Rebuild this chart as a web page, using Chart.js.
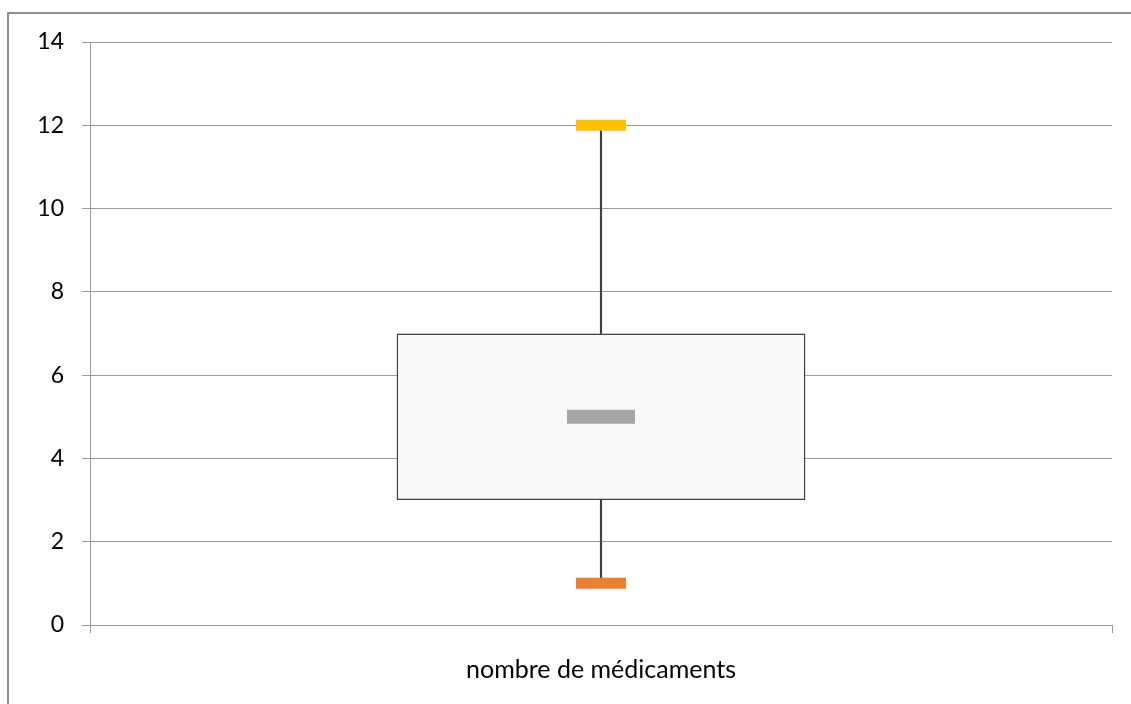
<!DOCTYPE html>
<html>
<head>
<meta charset="utf-8">
<script src="https://cdn.jsdelivr.net/npm/chart.js@4.4.0/dist/chart.umd.min.js"></script>
<style>
    html, body { margin: 0; padding: 0; background: #fff; overflow: hidden; }
    #wrap { position: relative; width: 1131px; height: 704px; }
    #frame { position: absolute; left: 7px; top: 12px; width: 1300px; height: 900px; border: 2px solid #8e8e8e; }
    #boxChart { position: absolute; left: 0; top: 0; }
</style>
</head>
<body>
<div id="wrap">
    <div id="frame"></div>
    <canvas id="boxChart" width="1131" height="704"></canvas>
</div>
<script>
// Boite a moustaches : nombre de medicaments
const categories = ['nombre de médicaments'];
const minValues = [1];
const q1Values = [3];
const medianValues = [5];
const q3Values = [7];
const maxValues = [12];
const yTicks = [0, 2, 4, 6, 8, 10, 12, 14];

const lineColor = '#404040';
const gridColor = '#9a9a9a';

const ctx = document.getElementById('boxChart').getContext('2d');
new Chart(ctx, {
    type: 'bar',
    data: {
        labels: categories,
        datasets: [
            {
                label: 'moustache basse',
                data: q1Values.map((q, i) => [minValues[i], q]),
                backgroundColor: lineColor,
                barThickness: 1.5,
                grouped: false,
                order: 3
            },
            {
                label: 'moustache haute',
                data: q3Values.map((q, i) => [q, maxValues[i]]),
                backgroundColor: lineColor,
                barThickness: 1.5,
                grouped: false,
                order: 3
            },
            {
                label: 'boite',
                data: q1Values.map((q, i) => [q, q3Values[i]]),
                backgroundColor: '#f8f8f8',
                borderColor: lineColor,
                borderWidth: 1.5,
                borderSkipped: false,
                barPercentage: 0.4,
                categoryPercentage: 1,
                grouped: false,
                order: 2
            },
            {
                type: 'line',
                label: 'médiane',
                data: medianValues,
                showLine: false,
                pointStyle: 'line',
                pointRadius: 34,
                pointHoverRadius: 34,
                pointBorderWidth: 14,
                pointBorderColor: '#a5a5a5',
                order: 1
            },
            {
                type: 'line',
                label: 'max',
                data: maxValues,
                showLine: false,
                pointStyle: 'line',
                pointRadius: 25,
                pointHoverRadius: 25,
                pointBorderWidth: 11,
                pointBorderColor: '#ffc000',
                order: 1
            },
            {
                type: 'line',
                label: 'min',
                data: minValues,
                showLine: false,
                pointStyle: 'line',
                pointRadius: 25,
                pointHoverRadius: 25,
                pointBorderWidth: 11,
                pointBorderColor: '#ed7d31',
                order: 1
            }
        ]
    },
    options: {
        responsive: false,
        animation: false,
        layout: {
            autoPadding: false,
            padding: { left: 0, top: 42, right: 19, bottom: 0 }
        },
        scales: {
            x: {
                offset: true,
                grid: {
                    offset: true,
                    drawOnChartArea: false,
                    tickLength: 8,
                    color: gridColor
                },
                border: { color: gridColor },
                ticks: {
                    color: '#000',
                    padding: 22,
                    font: { family: 'Lato', size: 25 }
                },
                afterFit: scale => {
                    scale.height = 79;
                    scale.paddingLeft = 0;
                    scale.paddingRight = 0;
                }
            },
            y: {
                min: 0,
                max: 14,
                afterBuildTicks: scale => {
                    scale.ticks = yTicks.map(v => ({ value: v }));
                },
                grid: {
                    color: gridColor,
                    tickLength: 8
                },
                border: { color: gridColor },
                ticks: {
                    color: '#000',
                    padding: 18,
                    font: { family: 'Lato', size: 23 }
                },
                afterFit: scale => {
                    scale.width = 90;
                    scale.paddingTop = 0;
                    scale.paddingBottom = 0;
                }
            }
        },
        plugins: {
            legend: { display: false },
            tooltip: { enabled: false }
        }
    }
});
</script>
</body>
</html>
